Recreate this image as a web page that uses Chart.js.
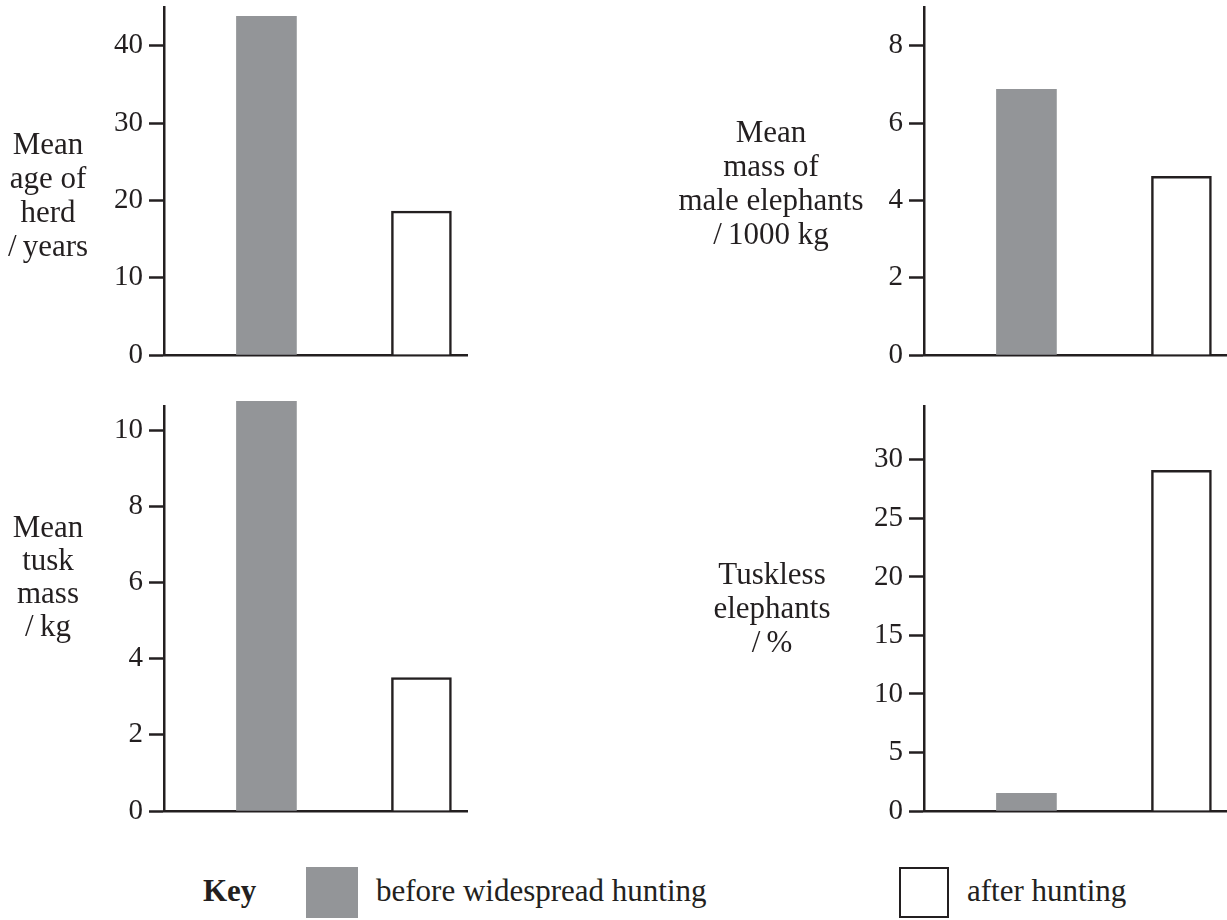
<!DOCTYPE html>
<html>
<head>
<meta charset="utf-8">
<script src="https://cdn.jsdelivr.net/npm/chart.js"></script>
<style>
  body { margin: 0; background: #fff; width: 1227px; height: 920px; position: relative; overflow: hidden;
         font-family: "Liberation Serif", "Times New Roman", serif; color: #231f20; }
  canvas { position: absolute; }
  .ylabel { position: absolute; width: 240px; text-align: center; font-size: 31px; line-height: 34px; white-space: nowrap; }
  .key { position: absolute; font-size: 31px; line-height: 30px; white-space: nowrap; }
  .swatch { position: absolute; box-sizing: border-box; }
</style>
</head>
<body>
<canvas id="age" width="380" height="375" style="left:100px;top:0px"></canvas>
<canvas id="mass" width="367" height="375" style="left:860px;top:0px"></canvas>
<canvas id="tusk" width="380" height="440" style="left:100px;top:390px"></canvas>
<canvas id="tuskless" width="367" height="440" style="left:860px;top:390px"></canvas>

<div class="ylabel" style="left:-72px;top:127px">Mean<br>age of<br>herd<br>/&thinsp;years</div>
<div class="ylabel" style="left:651px;top:115px">Mean<br>mass of<br>male elephants<br>/&thinsp;1000 kg</div>
<div class="ylabel" style="left:-72px;top:510px;line-height:33px">Mean<br>tusk<br>mass<br>/&thinsp;kg</div>
<div class="ylabel" style="left:652px;top:557px">Tuskless<br>elephants<br>/&thinsp;%</div>

<div class="key" style="left:203px;top:876px;font-weight:bold">Key</div>
<div class="swatch" style="left:306px;top:867px;width:52px;height:51px;background:#939598"></div>
<div class="key" id="keyBefore" style="left:376px;top:876px"></div>
<div class="swatch" style="left:899px;top:867px;width:50px;height:51px;border:2.5px solid #231f20;background:#fff"></div>
<div class="key" id="keyAfter" style="left:967px;top:876px"></div>

<script>
// categories shared by all four panels
const categories = ['before widespread hunting', 'after hunting'];

// values
const herdAge = [43.8, 18.6];       // years
const maleMass = [6.87, 4.62];      // 1000 kg
const tuskMass = [10.75, 3.5];      // kg
const tusklessPct = [1.5, 29.1];    // %

// tick labels
const ageTicks = [0, 10, 20, 30, 40];
const massTicks = [0, 2, 4, 6, 8];
const tuskTicks = [0, 2, 4, 6, 8, 10];
const tusklessTicks = [0, 5, 10, 15, 20, 25, 30];

const ink = '#231f20';
const grey = '#939598';

document.getElementById('keyBefore').textContent = categories[0];
document.getElementById('keyAfter').textContent = categories[1];

function makeChart(id, values, tickValues, yMax, pad) {
  const ctx = document.getElementById(id).getContext('2d');
  return new Chart(ctx, {
    type: 'bar',
    data: {
      datasets: [{
        label: categories.join(' / '),
        data: values.map((v, i) => ({ x: i, y: v })),
        backgroundColor: [grey, '#ffffff'],
        borderColor: [grey, ink],
        borderWidth: [0, 2.5],
        barThickness: 60,
        clip: false,
      }],
    },
    options: {
      responsive: false,
      animation: false,
      layout: { padding: pad },
      plugins: { legend: { display: false }, tooltip: { enabled: false } },
      scales: {
        x: {
          type: 'linear',
          min: -0.661,
          max: 1.294,
          offset: false,
          grid: { display: false },
          ticks: { display: false },
          border: { display: true, color: ink, width: 2.5 },
          afterFit: (s) => { s.height = 0; s.paddingLeft = 0; s.paddingRight = 0; },
        },
        y: {
          min: 0,
          max: yMax,
          afterBuildTicks: (s) => { s.ticks = tickValues.map((v) => ({ value: v })); },
          afterFit: (s) => { s.width = 64; s.paddingTop = 0; s.paddingBottom = 0; },
          border: { display: true, color: ink, width: 2.5 },
          grid: { display: true, drawOnChartArea: false, drawTicks: true, tickLength: 15, tickWidth: 2.5, tickColor: ink },
          ticks: { color: ink, padding: 6, font: { family: 'Liberation Serif', size: 29 } },
        },
      },
    },
  });
}

makeChart('age', herdAge, ageTicks, 45, { top: 7, bottom: 20, left: 0, right: 13 });
makeChart('mass', maleMass, massTicks, 9, { top: 7, bottom: 20, left: 0, right: 0 });
makeChart('tusk', tuskMass, tuskTicks, 10.63, { top: 16, bottom: 19, left: 0, right: 13 });
makeChart('tuskless', tusklessPct, tusklessTicks, 34.6, { top: 16, bottom: 19, left: 0, right: 0 });
</script>
</body>
</html>
